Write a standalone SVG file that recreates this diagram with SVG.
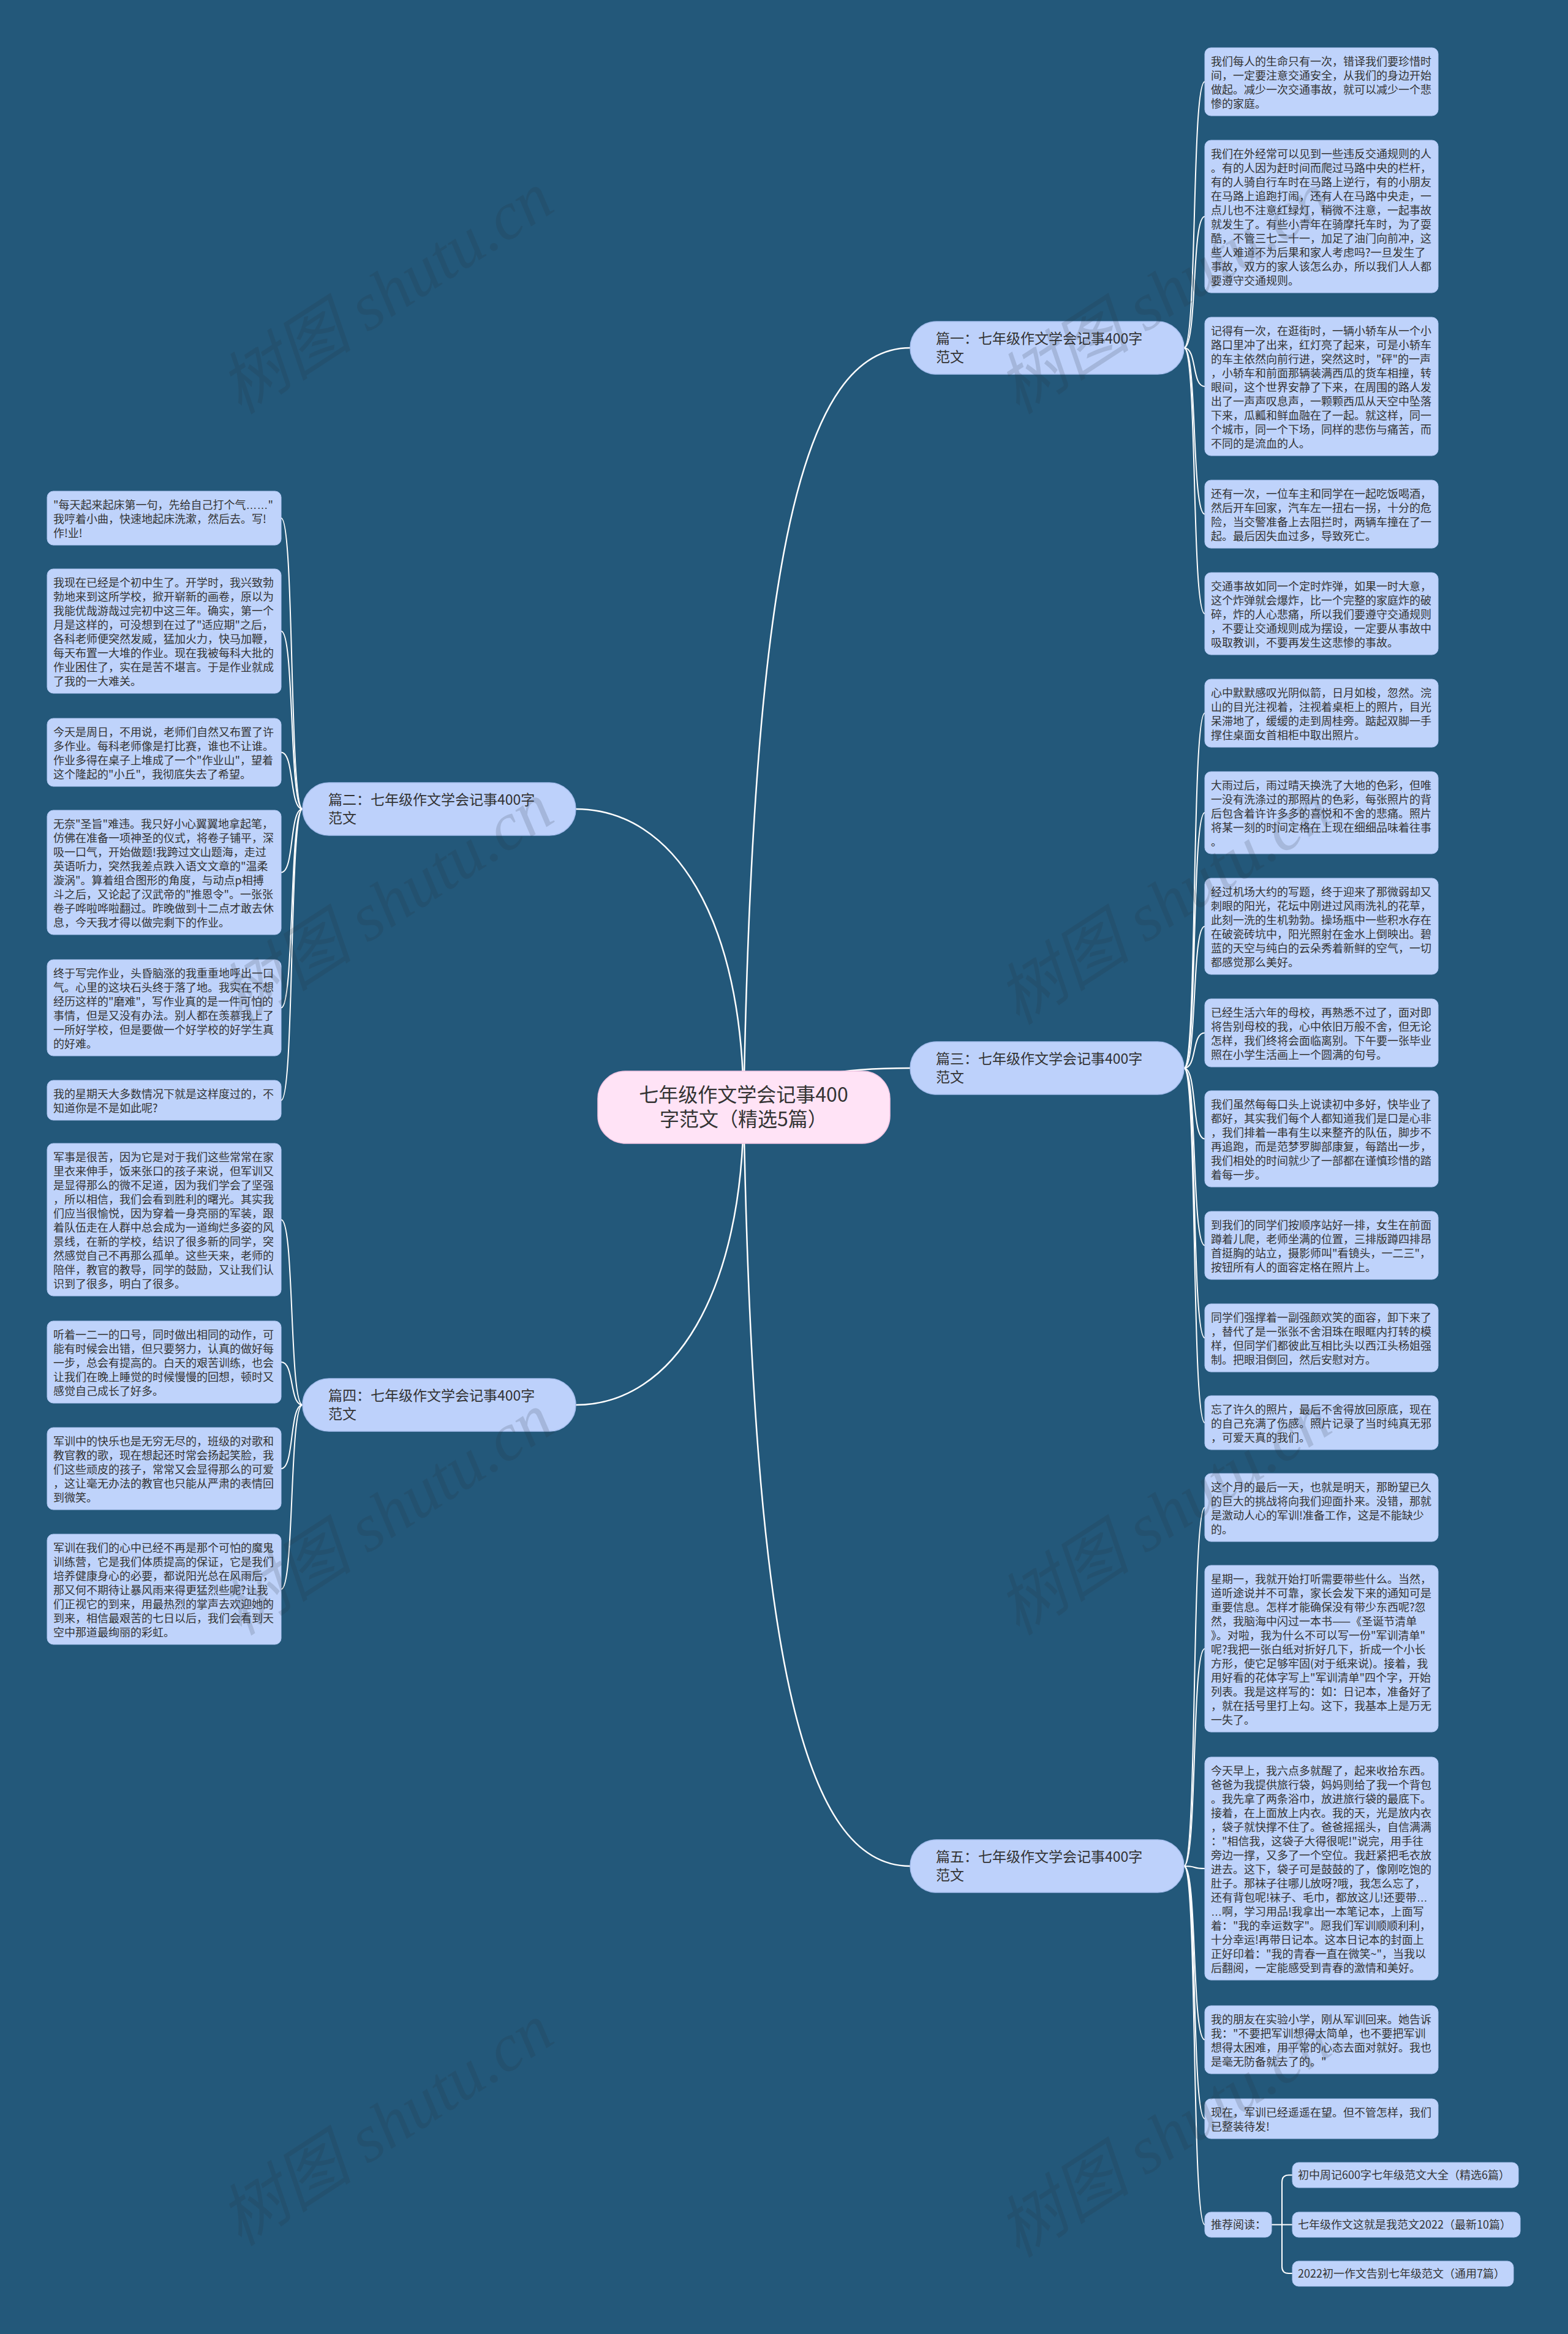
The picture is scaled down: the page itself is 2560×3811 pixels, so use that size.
<svg xmlns="http://www.w3.org/2000/svg" width="2560" height="3811" viewBox="0 0 2560 3811">
<style>
.bg{fill:#23587A}
.leaf{fill:#BFD3FB;stroke:#AFC5F2;stroke-width:1}
.branch{fill:#BDD1FB;stroke:#A6BEEE;stroke-width:1.5}
.root{fill:#FFE3F6;stroke:#F3C6E3;stroke-width:1.5}
.lt{font-family:"Noto Sans CJK SC","Liberation Sans",sans-serif;font-size:18px;fill:#333333}
.bt{font-family:"Noto Sans CJK SC","Liberation Sans",sans-serif;font-size:23px;fill:#333333}
.rt{font-family:"Noto Sans CJK SC","Liberation Sans",sans-serif;font-size:32px;fill:#333333;text-anchor:middle}
.el{font-family:"Liberation Sans",sans-serif}
.c{fill:none;stroke:#FFFFFF;stroke-width:2.5}
.cl{fill:none;stroke:#FFFFFF;stroke-width:2}
.wm{font-family:"Liberation Serif","Noto Sans CJK SC",serif;font-style:italic;font-size:110px;fill:#28323C;opacity:0.16;text-anchor:middle}
</style>
<rect class="bg" x="0" y="0" width="2560" height="3811"/>

<g id="connectors">
<path class="c" d="M1214,1808 C1230,912 1310,568 1486,568"/>
<path class="c" d="M1214,1808 C1214,1500 1100,1321 940,1321"/>
<path class="c" d="M1214,1808 C1300,1752 1380,1744 1486,1744"/>
<path class="c" d="M1214,1808 C1214,2110 1100,2294 940,2294"/>
<path class="c" d="M1214,1808 C1230,2700 1310,3047 1486,3047"/>
<path class="cl" d="M1933,568 C1955,568 1945,133.5 1967,133.5"/>
<path class="cl" d="M1933,568 C1955,568 1945,353.5 1967,353.5"/>
<path class="cl" d="M1933,568 C1955,568 1945,631 1967,631"/>
<path class="cl" d="M1933,568 C1955,568 1945,839.5 1967,839.5"/>
<path class="cl" d="M1933,568 C1955,568 1945,1002 1967,1002"/>
<path class="cl" d="M1933,1744 C1955,1744 1945,1164.5 1967,1164.5"/>
<path class="cl" d="M1933,1744 C1955,1744 1945,1327 1967,1327"/>
<path class="cl" d="M1933,1744 C1955,1744 1945,1512.5 1967,1512.5"/>
<path class="cl" d="M1933,1744 C1955,1744 1945,1686.5 1967,1686.5"/>
<path class="cl" d="M1933,1744 C1955,1744 1945,1859.5 1967,1859.5"/>
<path class="cl" d="M1933,1744 C1955,1744 1945,2033.5 1967,2033.5"/>
<path class="cl" d="M1933,1744 C1955,1744 1945,2184.5 1967,2184.5"/>
<path class="cl" d="M1933,1744 C1955,1744 1945,2323 1967,2323"/>
<path class="cl" d="M1933,3047 C1955,3047 1945,2461.5 1967,2461.5"/>
<path class="cl" d="M1933,3047 C1955,3047 1945,2692 1967,2692"/>
<path class="cl" d="M1933,3047 C1955,3047 1945,3051 1967,3051"/>
<path class="cl" d="M1933,3047 C1955,3047 1945,3330.5 1967,3330.5"/>
<path class="cl" d="M1933,3047 C1955,3047 1945,3459.5 1967,3459.5"/>
<path class="cl" d="M1933,3047 C1955,3047 1945,3632.5 1967,3632.5"/>
<path class="cl" d="M494,1321 C472,1321 481,846 459,846"/>
<path class="cl" d="M494,1321 C472,1321 481,1030.5 459,1030.5"/>
<path class="cl" d="M494,1321 C472,1321 481,1228.5 459,1228.5"/>
<path class="cl" d="M494,1321 C472,1321 481,1424.5 459,1424.5"/>
<path class="cl" d="M494,1321 C472,1321 481,1645.5 459,1645.5"/>
<path class="cl" d="M494,1321 C472,1321 481,1796.5 459,1796.5"/>
<path class="cl" d="M494,2294 C472,2294 481,1991.5 459,1991.5"/>
<path class="cl" d="M494,2294 C472,2294 481,2224 459,2224"/>
<path class="cl" d="M494,2294 C472,2294 481,2398 459,2398"/>
<path class="cl" d="M494,2294 C472,2294 481,2595 459,2595"/>
<path class="cl" d="M2076,3632.5 H2110"/>
<path class="cl" d="M2093,3632.5 V3563 Q2093,3551.5 2104,3551.5 H2110"/>
<path class="cl" d="M2093,3632.5 V3701 Q2093,3712 2104,3712 H2110"/>
</g>

<g id="root">
<rect class="root" x="976" y="1749" width="477" height="118" rx="45"/>
<text class="rt" x="1214" y="1799">七年级作文学会记事400</text>
<text class="rt" x="1214" y="1839">字范文（精选5篇）</text>
</g>

<g id="b1"><rect class="branch" x="1486" y="525" width="447" height="86" rx="43"/>
<text class="bt" y="561"><tspan x="1528">篇一：七年级作文学会记事400字</tspan><tspan x="1528" dy="30">范文</tspan></text></g>
<g id="b2"><rect class="branch" x="494" y="1278" width="446" height="86" rx="43"/>
<text class="bt" y="1314"><tspan x="536">篇二：七年级作文学会记事400字</tspan><tspan x="536" dy="30">范文</tspan></text></g>
<g id="b3"><rect class="branch" x="1486" y="1701" width="447" height="86" rx="43"/>
<text class="bt" y="1737"><tspan x="1528">篇三：七年级作文学会记事400字</tspan><tspan x="1528" dy="30">范文</tspan></text></g>
<g id="b4"><rect class="branch" x="494" y="2251" width="446" height="86" rx="43"/>
<text class="bt" y="2287"><tspan x="536">篇四：七年级作文学会记事400字</tspan><tspan x="536" dy="30">范文</tspan></text></g>
<g id="b5"><rect class="branch" x="1486" y="3004" width="447" height="86" rx="43"/>
<text class="bt" y="3040"><tspan x="1528">篇五：七年级作文学会记事400字</tspan><tspan x="1528" dy="30">范文</tspan></text></g>

<g id="r1"><rect class="leaf" x="1967" y="78" width="381" height="111" rx="10"/>
<text class="lt" y="106.5"><tspan x="1977">我们每人的生命只有一次，错译我们要珍惜时</tspan><tspan x="1977" dy="23">间，一定要注意交通安全，从我们的身边开始</tspan><tspan x="1977" dy="23">做起。减少一次交通事故，就可以减少一个悲</tspan><tspan x="1977" dy="23">惨的家庭。</tspan></text></g>
<g id="r2"><rect class="leaf" x="1967" y="229" width="381" height="249" rx="10"/>
<text class="lt" y="257.5"><tspan x="1977">我们在外经常可以见到一些违反交通规则的人</tspan><tspan x="1977" dy="23">。有的人因为赶时间而爬过马路中央的栏杆，</tspan><tspan x="1977" dy="23">有的人骑自行车时在马路上逆行，有的小朋友</tspan><tspan x="1977" dy="23">在马路上追跑打闹，还有人在马路中央走，一</tspan><tspan x="1977" dy="23">点儿也不注意红绿灯，稍微不注意，一起事故</tspan><tspan x="1977" dy="23">就发生了。有些小青年在骑摩托车时，为了耍</tspan><tspan x="1977" dy="23">酷，不管三七二十一，加足了油门向前冲，这</tspan><tspan x="1977" dy="23">些人难道不为后果和家人考虑吗?一旦发生了</tspan><tspan x="1977" dy="23">事故，双方的家人该怎么办，所以我们人人都</tspan><tspan x="1977" dy="23">要遵守交通规则。</tspan></text></g>
<g id="r3"><rect class="leaf" x="1967" y="518" width="381" height="226" rx="10"/>
<text class="lt" y="546.5"><tspan x="1977">记得有一次，在逛街时，一辆小轿车从一个小</tspan><tspan x="1977" dy="23">路口里冲了出来，红灯亮了起来，可是小轿车</tspan><tspan x="1977" dy="23">的车主依然向前行进，突然这时，"砰"的一声</tspan><tspan x="1977" dy="23">，小轿车和前面那辆装满西瓜的货车相撞，转</tspan><tspan x="1977" dy="23">眼间，这个世界安静了下来，在周围的路人发</tspan><tspan x="1977" dy="23">出了一声声叹息声，一颗颗西瓜从天空中坠落</tspan><tspan x="1977" dy="23">下来，瓜瓤和鲜血融在了一起。就这样，同一</tspan><tspan x="1977" dy="23">个城市，同一个下场，同样的悲伤与痛苦，而</tspan><tspan x="1977" dy="23">不同的是流血的人。</tspan></text></g>
<g id="r4"><rect class="leaf" x="1967" y="784" width="381" height="111" rx="10"/>
<text class="lt" y="812.5"><tspan x="1977">还有一次，一位车主和同学在一起吃饭喝酒，</tspan><tspan x="1977" dy="23">然后开车回家，汽车左一扭右一拐，十分的危</tspan><tspan x="1977" dy="23">险，当交警准备上去阻拦时，两辆车撞在了一</tspan><tspan x="1977" dy="23">起。最后因失血过多，导致死亡。</tspan></text></g>
<g id="r5"><rect class="leaf" x="1967" y="935" width="381" height="134" rx="10"/>
<text class="lt" y="963.5"><tspan x="1977">交通事故如同一个定时炸弹，如果一时大意，</tspan><tspan x="1977" dy="23">这个炸弹就会爆炸，比一个完整的家庭炸的破</tspan><tspan x="1977" dy="23">碎，炸的人心悲痛，所以我们要遵守交通规则</tspan><tspan x="1977" dy="23">，不要让交通规则成为摆设，一定要从事故中</tspan><tspan x="1977" dy="23">吸取教训，不要再发生这悲惨的事故。</tspan></text></g>
<g id="r6"><rect class="leaf" x="1967" y="1109" width="381" height="111" rx="10"/>
<text class="lt" y="1137.5"><tspan x="1977">心中默默感叹光阴似箭，日月如梭，忽然。浣</tspan><tspan x="1977" dy="23">山的目光注视着，注视着桌柜上的照片，目光</tspan><tspan x="1977" dy="23">呆滞地了，缓缓的走到周桂旁。踮起双脚一手</tspan><tspan x="1977" dy="23">撑住桌面女首相柜中取出照片。</tspan></text></g>
<g id="r7"><rect class="leaf" x="1967" y="1260" width="381" height="134" rx="10"/>
<text class="lt" y="1288.5"><tspan x="1977">大雨过后，雨过晴天换洗了大地的色彩，但唯</tspan><tspan x="1977" dy="23">一没有洗涤过的那照片的色彩，每张照片的背</tspan><tspan x="1977" dy="23">后包含着许许多多的喜悦和不舍的悲痛。照片</tspan><tspan x="1977" dy="23">将某一刻的时间定格在上现在细细品味着往事</tspan><tspan x="1977" dy="23">。</tspan></text></g>
<g id="r8"><rect class="leaf" x="1967" y="1434" width="381" height="157" rx="10"/>
<text class="lt" y="1462.5"><tspan x="1977">经过机场大约的写题，终于迎来了那微弱却又</tspan><tspan x="1977" dy="23">刺眼的阳光，花坛中刚进过风雨洗礼的花草，</tspan><tspan x="1977" dy="23">此刻一洗的生机勃勃。操场瓶中一些积水存在</tspan><tspan x="1977" dy="23">在破瓷砖坑中，阳光照射在金水上倒映出。碧</tspan><tspan x="1977" dy="23">蓝的天空与纯白的云朵秀着新鲜的空气，一切</tspan><tspan x="1977" dy="23">都感觉那么美好。</tspan></text></g>
<g id="r9"><rect class="leaf" x="1967" y="1631" width="381" height="111" rx="10"/>
<text class="lt" y="1659.5"><tspan x="1977">已经生活六年的母校，再熟悉不过了，面对即</tspan><tspan x="1977" dy="23">将告别母校的我，心中依旧万般不舍，但无论</tspan><tspan x="1977" dy="23">怎样，我们终将会面临离别。下午要一张毕业</tspan><tspan x="1977" dy="23">照在小学生活画上一个圆满的句号。</tspan></text></g>
<g id="r10"><rect class="leaf" x="1967" y="1781" width="381" height="157" rx="10"/>
<text class="lt" y="1809.5"><tspan x="1977">我们虽然每每口头上说读初中多好，快毕业了</tspan><tspan x="1977" dy="23">都好，其实我们每个人都知道我们是口是心非</tspan><tspan x="1977" dy="23">，我们排着一串有生以来整齐的队伍，脚步不</tspan><tspan x="1977" dy="23">再追跑，而是范梦罗脚部康复，每踏出一步，</tspan><tspan x="1977" dy="23">我们相处的时间就少了一部都在谨慎珍惜的踏</tspan><tspan x="1977" dy="23">着每一步。</tspan></text></g>
<g id="r11"><rect class="leaf" x="1967" y="1978" width="381" height="111" rx="10"/>
<text class="lt" y="2006.5"><tspan x="1977">到我们的同学们按顺序站好一排，女生在前面</tspan><tspan x="1977" dy="23">蹲着儿爬，老师坐满的位置，三排版蹲四排昂</tspan><tspan x="1977" dy="23">首挺胸的站立，摄影师叫"看镜头，一二三"，</tspan><tspan x="1977" dy="23">按钮所有人的面容定格在照片上。</tspan></text></g>
<g id="r12"><rect class="leaf" x="1967" y="2129" width="381" height="111" rx="10"/>
<text class="lt" y="2157.5"><tspan x="1977">同学们强撑着一副强颜欢笑的面容，卸下来了</tspan><tspan x="1977" dy="23">，替代了是一张张不舍泪珠在眼眶内打转的模</tspan><tspan x="1977" dy="23">样，但同学们都彼此互相比头以西江头杨姐强</tspan><tspan x="1977" dy="23">制。把眼泪倒回，然后安慰对方。</tspan></text></g>
<g id="r13"><rect class="leaf" x="1967" y="2279" width="381" height="88" rx="10"/>
<text class="lt" y="2307.5"><tspan x="1977">忘了许久的照片，最后不舍得放回原底，现在</tspan><tspan x="1977" dy="23">的自己充满了伤感。照片记录了当时纯真无邪</tspan><tspan x="1977" dy="23">，可爱天真的我们。</tspan></text></g>
<g id="r14"><rect class="leaf" x="1967" y="2406" width="381" height="111" rx="10"/>
<text class="lt" y="2434.5"><tspan x="1977">这个月的最后一天，也就是明天，那盼望已久</tspan><tspan x="1977" dy="23">的巨大的挑战将向我们迎面扑来。没错，那就</tspan><tspan x="1977" dy="23">是激动人心的军训!准备工作，这是不能缺少</tspan><tspan x="1977" dy="23">的。</tspan></text></g>
<g id="r15"><rect class="leaf" x="1967" y="2556" width="381" height="272" rx="10"/>
<text class="lt" y="2584.5"><tspan x="1977">星期一，我就开始打听需要带些什么。当然，</tspan><tspan x="1977" dy="23">道听途说并不可靠，家长会发下来的通知可是</tspan><tspan x="1977" dy="23">重要信息。怎样才能确保没有带少东西呢?忽</tspan><tspan x="1977" dy="23">然，我脑海中闪过一本书——《圣诞节清单</tspan><tspan x="1977" dy="23">》。对啦，我为什么不可以写一份"军训清单"</tspan><tspan x="1977" dy="23">呢?我把一张白纸对折好几下，折成一个小长</tspan><tspan x="1977" dy="23">方形，使它足够牢固(对于纸来说)。接着，我</tspan><tspan x="1977" dy="23">用好看的花体字写上"军训清单"四个字，开始</tspan><tspan x="1977" dy="23">列表。我是这样写的：如：日记本，准备好了</tspan><tspan x="1977" dy="23">，就在括号里打上勾。这下，我基本上是万无</tspan><tspan x="1977" dy="23">一失了。</tspan></text></g>
<g id="r16"><rect class="leaf" x="1967" y="2869" width="381" height="364" rx="10"/>
<text class="lt" y="2897.5"><tspan x="1977">今天早上，我六点多就醒了，起来收拾东西。</tspan><tspan x="1977" dy="23">爸爸为我提供旅行袋，妈妈则给了我一个背包</tspan><tspan x="1977" dy="23">。我先拿了两条浴巾，放进旅行袋的最底下。</tspan><tspan x="1977" dy="23">接着，在上面放上内衣。我的天，光是放内衣</tspan><tspan x="1977" dy="23">，袋子就快撑不住了。爸爸摇摇头，自信满满</tspan><tspan x="1977" dy="23">："相信我，这袋子大得很呢!"说完，用手往</tspan><tspan x="1977" dy="23">旁边一撑，又多了一个空位。我赶紧把毛衣放</tspan><tspan x="1977" dy="23">进去。这下，袋子可是鼓鼓的了，像刚吃饱的</tspan><tspan x="1977" dy="23">肚子。那袜子往哪儿放呀?哦，我怎么忘了，</tspan><tspan x="1977" dy="23">还有背包呢!袜子、毛巾，都放这儿!还要带<tspan class="el">…</tspan></tspan><tspan x="1977" dy="23"><tspan class="el">…</tspan>啊，学习用品!我拿出一本笔记本，上面写</tspan><tspan x="1977" dy="23">着："我的幸运数字"。愿我们军训顺顺利利，</tspan><tspan x="1977" dy="23">十分幸运!再带日记本。这本日记本的封面上</tspan><tspan x="1977" dy="23">正好印着："我的青春一直在微笑~"，当我以</tspan><tspan x="1977" dy="23">后翻阅，一定能感受到青春的激情和美好。</tspan></text></g>
<g id="r17"><rect class="leaf" x="1967" y="3275" width="381" height="111" rx="10"/>
<text class="lt" y="3303.5"><tspan x="1977">我的朋友在实验小学，刚从军训回来。她告诉</tspan><tspan x="1977" dy="23">我："不要把军训想得太简单，也不要把军训</tspan><tspan x="1977" dy="23">想得太困难，用平常的心态去面对就好。我也</tspan><tspan x="1977" dy="23">是毫无防备就去了的。"</tspan></text></g>
<g id="r18"><rect class="leaf" x="1967" y="3427" width="381" height="65" rx="10"/>
<text class="lt" y="3455.5"><tspan x="1977">现在，军训已经遥遥在望。但不管怎样，我们</tspan><tspan x="1977" dy="23">已整装待发!</tspan></text></g>
<g id="rec"><rect class="leaf" x="1967" y="3612" width="109" height="41" rx="10"/>
<text class="lt" x="1977" y="3639">推荐阅读：</text></g>
<g id="rec1"><rect class="leaf" x="2110" y="3531" width="369" height="41" rx="10"/>
<text class="lt" x="2119" y="3558">初中周记600字七年级范文大全（精选6篇）</text></g>
<g id="rec2"><rect class="leaf" x="2110" y="3612" width="372" height="41" rx="10"/>
<text class="lt" x="2119" y="3639">七年级作文这就是我范文2022（最新10篇）</text></g>
<g id="rec3"><rect class="leaf" x="2110" y="3692" width="361" height="41" rx="10"/>
<text class="lt" x="2119" y="3719">2022初一作文告别七年级范文（通用7篇）</text></g>

<g id="l1"><rect class="leaf" x="77" y="802" width="382" height="88" rx="10"/>
<text class="lt" y="830.5"><tspan x="87">"每天起来起床第一句，先给自己打个气<tspan class="el">……</tspan>"</tspan><tspan x="87" dy="23">我哼着小曲，快速地起床洗漱，然后去。写!</tspan><tspan x="87" dy="23">作!业!</tspan></text></g>
<g id="l2"><rect class="leaf" x="77" y="929" width="382" height="203" rx="10"/>
<text class="lt" y="957.5"><tspan x="87">我现在已经是个初中生了。开学时，我兴致勃</tspan><tspan x="87" dy="23">勃地来到这所学校，掀开崭新的画卷，原以为</tspan><tspan x="87" dy="23">我能优哉游哉过完初中这三年。确实，第一个</tspan><tspan x="87" dy="23">月是这样的，可没想到在过了"适应期"之后，</tspan><tspan x="87" dy="23">各科老师便突然发威，猛加火力，快马加鞭，</tspan><tspan x="87" dy="23">每天布置一大堆的作业。现在我被每科大批的</tspan><tspan x="87" dy="23">作业困住了，实在是苦不堪言。于是作业就成</tspan><tspan x="87" dy="23">了我的一大难关。</tspan></text></g>
<g id="l3"><rect class="leaf" x="77" y="1173" width="382" height="111" rx="10"/>
<text class="lt" y="1201.5"><tspan x="87">今天是周日，不用说，老师们自然又布置了许</tspan><tspan x="87" dy="23">多作业。每科老师像是打比赛，谁也不让谁。</tspan><tspan x="87" dy="23">作业多得在桌子上堆成了一个"作业山"，望着</tspan><tspan x="87" dy="23">这个隆起的"小丘"，我彻底失去了希望。</tspan></text></g>
<g id="l4"><rect class="leaf" x="77" y="1323" width="382" height="203" rx="10"/>
<text class="lt" y="1351.5"><tspan x="87">无奈"圣旨"难违。我只好小心翼翼地拿起笔，</tspan><tspan x="87" dy="23">仿佛在准备一项神圣的仪式，将卷子铺平，深</tspan><tspan x="87" dy="23">吸一口气，开始做题!我跨过文山题海，走过</tspan><tspan x="87" dy="23">英语听力，突然我差点跌入语文文章的"温柔</tspan><tspan x="87" dy="23">漩涡"。算着组合图形的角度，与动点p相搏</tspan><tspan x="87" dy="23">斗之后，又论起了汉武帝的"推恩令"。一张张</tspan><tspan x="87" dy="23">卷子哗啦哗啦翻过。昨晚做到十二点才敢去休</tspan><tspan x="87" dy="23">息，今天我才得以做完剩下的作业。</tspan></text></g>
<g id="l5"><rect class="leaf" x="77" y="1567" width="382" height="157" rx="10"/>
<text class="lt" y="1595.5"><tspan x="87">终于写完作业，头昏脑涨的我重重地呼出一口</tspan><tspan x="87" dy="23">气。心里的这块石头终于落了地。我实在不想</tspan><tspan x="87" dy="23">经历这样的"磨难"，写作业真的是一件可怕的</tspan><tspan x="87" dy="23">事情，但是又没有办法。别人都在羡慕我上了</tspan><tspan x="87" dy="23">一所好学校，但是要做一个好学校的好学生真</tspan><tspan x="87" dy="23">的好难。</tspan></text></g>
<g id="l6"><rect class="leaf" x="77" y="1764" width="382" height="65" rx="10"/>
<text class="lt" y="1792.5"><tspan x="87">我的星期天大多数情况下就是这样度过的，不</tspan><tspan x="87" dy="23">知道你是不是如此呢?</tspan></text></g>
<g id="l7"><rect class="leaf" x="77" y="1867" width="382" height="249" rx="10"/>
<text class="lt" y="1895.5"><tspan x="87">军事是很苦，因为它是对于我们这些常常在家</tspan><tspan x="87" dy="23">里衣来伸手，饭来张口的孩子来说，但军训又</tspan><tspan x="87" dy="23">是显得那么的微不足道，因为我们学会了坚强</tspan><tspan x="87" dy="23">，所以相信，我们会看到胜利的曙光。其实我</tspan><tspan x="87" dy="23">们应当很愉悦，因为穿着一身亮丽的军装，跟</tspan><tspan x="87" dy="23">着队伍走在人群中总会成为一道绚烂多姿的风</tspan><tspan x="87" dy="23">景线，在新的学校，结识了很多新的同学，突</tspan><tspan x="87" dy="23">然感觉自己不再那么孤单。这些天来，老师的</tspan><tspan x="87" dy="23">陪伴，教官的教导，同学的鼓励，又让我们认</tspan><tspan x="87" dy="23">识到了很多，明白了很多。</tspan></text></g>
<g id="l8"><rect class="leaf" x="77" y="2157" width="382" height="134" rx="10"/>
<text class="lt" y="2185.5"><tspan x="87">听着一二一的口号，同时做出相同的动作，可</tspan><tspan x="87" dy="23">能有时候会出错，但只要努力，认真的做好每</tspan><tspan x="87" dy="23">一步，总会有提高的。白天的艰苦训练，也会</tspan><tspan x="87" dy="23">让我们在晚上睡觉的时候慢慢的回想，顿时又</tspan><tspan x="87" dy="23">感觉自己成长了好多。</tspan></text></g>
<g id="l9"><rect class="leaf" x="77" y="2331" width="382" height="134" rx="10"/>
<text class="lt" y="2359.5"><tspan x="87">军训中的快乐也是无穷无尽的，班级的对歌和</tspan><tspan x="87" dy="23">教官教的歌，现在想起还时常会扬起笑脸，我</tspan><tspan x="87" dy="23">们这些顽皮的孩子，常常又会显得那么的可爱</tspan><tspan x="87" dy="23">，这让毫无办法的教官也只能从严肃的表情回</tspan><tspan x="87" dy="23">到微笑。</tspan></text></g>
<g id="l10"><rect class="leaf" x="77" y="2505" width="382" height="180" rx="10"/>
<text class="lt" y="2533.5"><tspan x="87">军训在我们的心中已经不再是那个可怕的魔鬼</tspan><tspan x="87" dy="23">训练营，它是我们体质提高的保证，它是我们</tspan><tspan x="87" dy="23">培养健康身心的必要，都说阳光总在风雨后，</tspan><tspan x="87" dy="23">那又何不期待让暴风雨来得更猛烈些呢?让我</tspan><tspan x="87" dy="23">们正视它的到来，用最热烈的掌声去欢迎她的</tspan><tspan x="87" dy="23">到来，相信最艰苦的七日以后，我们会看到天</tspan><tspan x="87" dy="23">空中那道最绚丽的彩虹。</tspan></text></g>

<g id="watermarks">
<text class="wm" transform="translate(651,510) rotate(-33)">树图 shutu.cn</text>
<text class="wm" transform="translate(1921,510) rotate(-33)">树图 shutu.cn</text>
<text class="wm" transform="translate(651,1507) rotate(-33)">树图 shutu.cn</text>
<text class="wm" transform="translate(1921,1507) rotate(-33)">树图 shutu.cn</text>
<text class="wm" transform="translate(651,2504) rotate(-33)">树图 shutu.cn</text>
<text class="wm" transform="translate(1921,2504) rotate(-33)">树图 shutu.cn</text>
<text class="wm" transform="translate(651,3501) rotate(-33)">树图 shutu.cn</text>
<text class="wm" transform="translate(1921,3520) rotate(-33)">树图 shutu.cn</text>
</g>
</svg>
